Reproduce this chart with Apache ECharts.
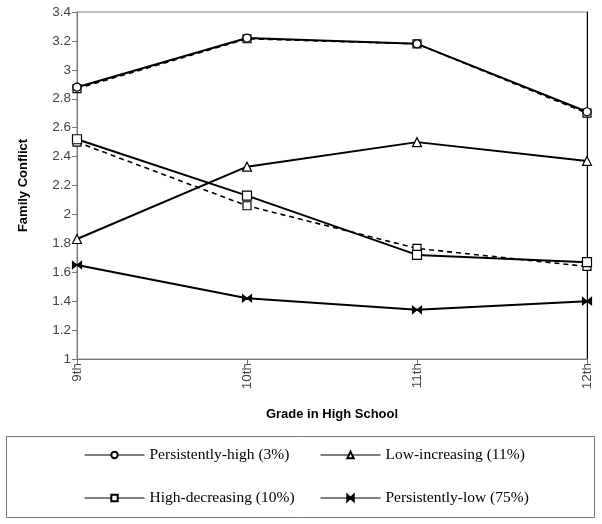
<!DOCTYPE html>
<html>
<head>
<meta charset="utf-8">
<script src="https://cdn.jsdelivr.net/npm/echarts@6/dist/echarts.min.js"></script>
<style>
  html, body { margin: 0; padding: 0; background: #fff; }
  #chart { width: 602px; height: 524px; }
</style>
</head>
<body>
<div id="chart"></div>
<script>
// Grades on the x axis
const grades = ['9th', '10th', '11th', '12th'];

// Observed trajectories (solid)
const persistentlyHigh = [2.88, 3.22, 3.18, 2.71];
const lowIncreasing = [1.83, 2.33, 2.50, 2.37];
const highDecreasing = [2.52, 2.13, 1.72, 1.67];
const persistentlyLow = [1.65, 1.42, 1.34, 1.40];

// Estimated trajectories (dashed)
const persistentlyHighEst = [2.87, 3.215, 3.18, 2.70];
const highDecreasingEst = [2.50, 2.06, 1.765, 1.64];

const legendLeft = ['Persistently-high (3%)', 'High-decreasing (10%)'];
const legendRight = ['Low-increasing (11%)', 'Persistently-low (75%)'];

const bowtie = 'path://M0,0L5,4L0,8Z M10,0L5,4L10,8Z';

function solid(name, data, symbol, size, fill) {
  return {
    name, type: 'line', data, symbol, symbolSize: size,
    symbolKeepAspect: true,
    showAllSymbol: true,
    lineStyle: { color: '#000', width: 2 },
    itemStyle: { color: fill, borderColor: '#000', borderWidth: 1.2 },
    z: 3
  };
}

function dashed(data) {
  return {
    name: 'est', type: 'line', data, symbol: 'rect', symbolSize: 8,
    lineStyle: { color: '#000', width: 1.6, type: [5, 4] },
    itemStyle: { color: '#fff', borderColor: '#000', borderWidth: 1.2 },
    z: 2
  };
}

const legendCommon = {
  orient: 'vertical',
  top: 442,
  itemWidth: 60,
  itemHeight: 8,
  itemGap: 27,
  selectedMode: false,
  textStyle: { fontFamily: 'Liberation Serif', fontSize: 15.5, color: '#000', lineHeight: 16 },
  lineStyle: { width: 1, color: '#000' }
};

const chart = echarts.init(document.getElementById('chart'));
chart.setOption({
  animation: false,
  backgroundColor: '#fff',
  grid: { left: 77, top: 12, right: 15, bottom: 165, show: true, borderColor: '#888', borderWidth: 1 },
  legend: [
    Object.assign({ left: 79, data: legendLeft }, legendCommon),
    Object.assign({ left: 315, data: legendRight }, legendCommon)
  ],
  graphic: [{
    type: 'rect',
    shape: { x: 6.5, y: 436.5, width: 588, height: 81 },
    style: { fill: 'none', stroke: '#777', lineWidth: 1 }
  }],
  xAxis: {
    type: 'category',
    data: grades,
    boundaryGap: false,
    name: 'Grade in High School',
    nameLocation: 'middle',
    nameGap: 49,
    nameTextStyle: { fontFamily: 'Liberation Sans', fontWeight: 'bold', fontSize: 13, color: '#000' },
    axisLine: { lineStyle: { color: '#777', width: 1 } },
    axisTick: { alignWithLabel: true, length: 5, lineStyle: { color: '#777' } },
    axisLabel: { rotate: 90, fontFamily: 'Liberation Sans', fontSize: 13.5, color: '#444', margin: 4 },
    splitLine: { show: false }
  },
  yAxis: [{
    type: 'value',
    min: 1,
    max: 3.4,
    interval: 0.2,
    name: 'Family Conflict',
    nameLocation: 'middle',
    nameGap: 47,
    nameTextStyle: { fontFamily: 'Liberation Sans', fontWeight: 'bold', fontSize: 13, color: '#000' },
    axisLine: { show: true, lineStyle: { color: '#777', width: 1 } },
    axisTick: { show: true, length: 5, lineStyle: { color: '#777' } },
    axisLabel: {
      fontFamily: 'Liberation Sans', fontSize: 13.5, color: '#444', margin: 6,
      formatter: v => String(Math.round(v * 10) / 10)
    },
    splitLine: { show: false }
  }, {
    type: 'value',
    position: 'right',
    min: 1,
    max: 3.4,
    interval: 0.2,
    axisLine: { show: true, lineStyle: { color: '#000', width: 1 } },
    axisTick: { show: false },
    axisLabel: { show: false },
    splitLine: { show: false }
  }],
  series: [
    dashed(persistentlyHighEst),
    dashed(highDecreasingEst),
    solid('Persistently-high (3%)', persistentlyHigh, 'circle', 8, '#fff'),
    solid('Low-increasing (11%)', lowIncreasing, 'triangle', 9, '#fff'),
    solid('High-decreasing (10%)', highDecreasing, 'rect', 9, '#fff'),
    solid('Persistently-low (75%)', persistentlyLow, bowtie, 9, '#000')
  ]
});
</script>
</body>
</html>
